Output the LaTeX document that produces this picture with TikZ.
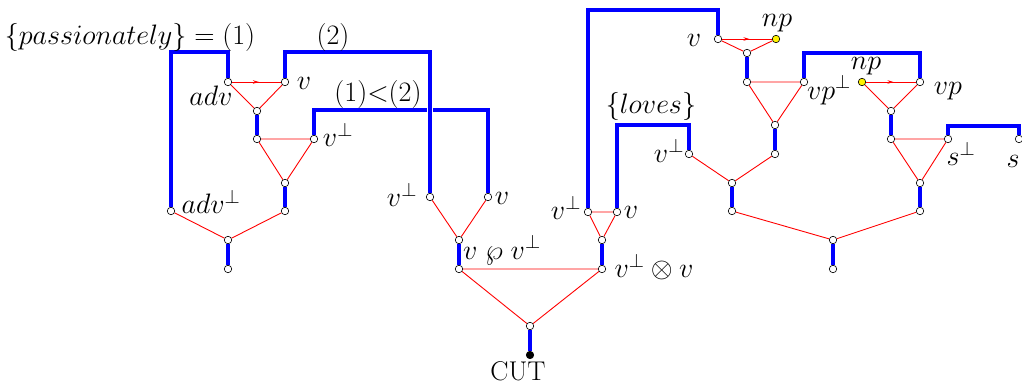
\documentclass[tikz,border=0pt]{standalone}
\usepackage{graphicx}
\usetikzlibrary{arrows.meta,decorations.markings}
\pgfdeclarelayer{bg}
\pgfsetlayers{bg,main}
\newcommand{\lbltxt}[1]{\scalebox{1.13}{#1}}
\tikzset{
  pt/.style={circle,draw=black,fill=white,line width=0.6pt,inner sep=0pt,minimum size=7.5pt},
  ypt/.style={pt,fill=yellow},
  bpt/.style={pt,fill=black},
  rl/.style={draw=red,line width=0.9pt},
  bl/.style={draw=blue,line width=3.2pt},
  ar/.style={rl,postaction={decorate},decoration={markings,mark=at position 0.55 with {\arrow{Stealth[length=6pt,width=3.5pt]}}}},
  lab/.style={inner sep=0pt,font=\fontsize{24}{28}\selectfont},
}
\begin{document}
\begin{tikzpicture}[x=1pt,y=-1pt]
\useasboundingbox (0,0) rectangle (1022,387);
% left part
\node[pt] (a1) at (228,82) {};
\node[pt] (a2) at (285,82) {};
\node[pt] (a3) at (257,111) {};
\node[pt] (a4) at (257,139) {};
\node[pt] (a5) at (314,139) {};
\node[pt] (a6) at (285,183) {};
\node[pt] (a7) at (285,211) {};
\node[pt] (a8) at (171,211) {};
\node[pt] (a9) at (228,240) {};
\node[pt] (a10) at (228,269) {};
% middle
\node[pt] (b1) at (430,197) {};
\node[pt] (b2) at (488,197) {};
\node[pt] (b3) at (459,240) {};
\node[pt] (b4) at (459,269) {};
\node[pt] (c1) at (588,212) {};
\node[pt] (c2) at (617,212) {};
\node[pt] (c3) at (602,240) {};
\node[pt] (c4) at (602,269) {};
\node[pt] (cut0) at (530,326) {};
\node[bpt] (cut) at (530,355) {};
% right
\node[pt] (d1) at (718,39) {};
\node[ypt] (d2) at (776,39) {};
\node[pt] (d3) at (747,53) {};
\node[pt] (d4) at (747,82) {};
\node[pt] (d5) at (804,82) {};
\node[pt] (d6) at (775,125) {};
\node[pt] (d7) at (775,154) {};
\node[pt] (e1) at (689,154) {};
\node[pt] (e2) at (732,183) {};
\node[pt] (e3) at (732,211) {};
\node[ypt] (f1) at (862,82) {};
\node[pt] (f2) at (920,82) {};
\node[pt] (f3) at (891,111) {};
\node[pt] (f4) at (891,139) {};
\node[pt] (f5) at (948,139) {};
\node[pt] (f6) at (920,183) {};
\node[pt] (f7) at (920,211) {};
\node[pt] (g1) at (833,240) {};
\node[pt] (g2) at (833,269) {};
\node[pt] (s) at (1019,139) {};
% corner coordinates
\coordinate (k2) at (171,52);
\coordinate (k3) at (430,52);
\coordinate (k4) at (488,110);
\coordinate (k5) at (718,10);
\coordinate (k6) at (689,125);
\coordinate (k7) at (920,53);
\coordinate (k8) at (1019,126);
% labels
\node[lab] (t1) at (130,37) {\lbltxt{$\{passionately\}=(1)$}};
\node[lab] (t2) at (333,37) {\lbltxt{$(2)$}};
\node[lab] (t3) at (378,94) {\lbltxt{$(1){<}(2)$}};
\node[lab] (t4) at (211,96) {\lbltxt{$adv$}};
\node[lab] (t5) at (304,83) {\lbltxt{$v$}};
\node[lab] (t6) at (338,135) {\lbltxt{$v^{\perp}$}};
\node[lab] (t7) at (211,202) {\lbltxt{$adv^{\perp}$}};
\node[lab] (t8) at (402,195) {\lbltxt{$v^{\perp}$}};
\node[lab] (t9) at (502,198) {\lbltxt{$v$}};
\node[lab] (t10) at (502,250) {\lbltxt{$v\;\wp\;v^{\perp}$}};
\node[lab] (t11) at (654,267) {\lbltxt{$v^{\perp}\otimes v$}};
\node[lab] (t12) at (518,371) {\lbltxt{CUT}};
\node[lab] (t13) at (566,208) {\lbltxt{$v^{\perp}$}};
\node[lab] (t14) at (631,212) {\lbltxt{$v$}};
\node[lab] (t15) at (651,106) {\lbltxt{$\{loves\}$}};
\node[lab] (t16) at (669,151) {\lbltxt{$v^{\perp}$}};
\node[lab] (t17) at (694,40) {\lbltxt{$v$}};
\node[lab] (t18) at (777,23) {\lbltxt{$np$}};
\node[lab] (t19) at (829,90) {\lbltxt{$vp^{\perp}$}};
\node[lab] (t20) at (866,66) {\lbltxt{$np$}};
\node[lab] (t21) at (948,91) {\lbltxt{$vp$}};
\node[lab] (t22) at (961,154) {\lbltxt{$s^{\perp}$}};
\node[lab] (t23) at (1013,161) {\lbltxt{$s$}};
\begin{pgfonlayer}{bg}
% red links
\draw[ar] (a1) -- (a2);
\draw[rl] (a1) -- (a3) (a2) -- (a3) (a4) -- (a5) (a4) -- (a6) (a5) -- (a6)
  (a8) -- (a9) (a7) -- (a9);
\draw[rl] (b1) -- (b3) (b2) -- (b3) (b4) -- (c4) (c1) -- (c2) (c1) -- (c3) (c2) -- (c3)
  (b4) -- (cut0) (c4) -- (cut0);
\draw[ar] (d1) -- (d2);
\draw[ar] (f1) -- (f2);
\draw[rl] (d1) -- (d3) (d2) -- (d3) (d4) -- (d5) (d4) -- (d6) (d5) -- (d6)
  (e1) -- (e2) (d7) -- (e2) (f1) -- (f3) (f2) -- (f3) (f4) -- (f5) (f4) -- (f6) (f5) -- (f6)
  (e3) -- (g1) (f7) -- (g1);
% blue links
\draw[bl] (a3) -- (a4) (a6) -- (a7) (a9) -- (a10) (b3) -- (b4) (c3) -- (c4) (cut0) -- (cut)
  (d3) -- (d4) (d6) -- (d7) (e2) -- (e3) (f3) -- (f4) (f6) -- (f7) (g1) -- (g2);
\draw[bl] (a1) |- (k2) -- (a8);
\draw[bl] (a5) |- (k4) -- (b2);
\draw[bl,preaction={draw=white,line width=6.5pt}] (a2) |- (k3) -- (b1);
\draw[bl] (c1) |- (k5) -- (d1);
\draw[bl] (c2) |- (k6) -- (e1);
\draw[bl] (d5) |- (k7) -- (f2);
\draw[bl] (f5) |- (k8) -- (s);
\end{pgfonlayer}
\end{tikzpicture}
\end{document}
